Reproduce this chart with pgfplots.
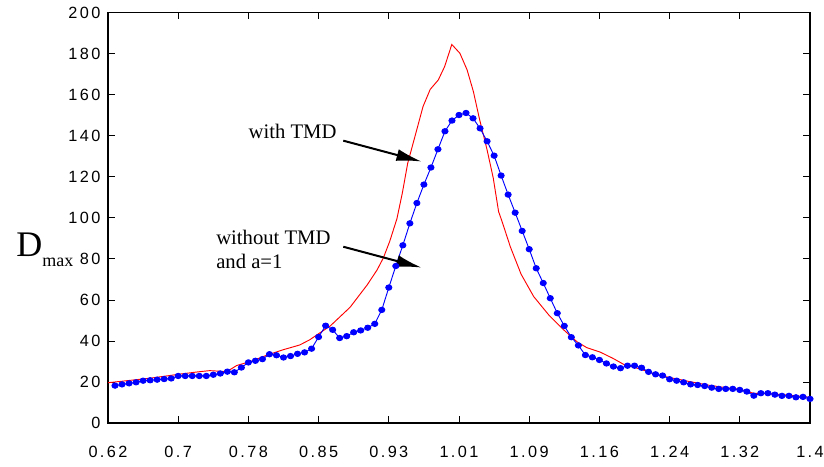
\documentclass[border=0pt]{standalone}
\usepackage{fontspec}
\setmainfont{Liberation Serif}
\newfontfamily\tickfont[LetterSpace=15]{Liberation Sans}
\usepackage{pgfplots}
\pgfplotsset{compat=1.18}
\usetikzlibrary{arrows.meta}
\begin{document}
\begin{tikzpicture}
\begin{axis}[
  name=ax,
  scale only axis,
  width=526.5pt, height=307.7pt,
  xmin=0.62, xmax=1.4, ymin=0, ymax=200,
  axis line style={black, line width=0.9pt},
  xtick={0.62,0.698,0.776,0.854,0.932,1.01,1.088,1.166,1.244,1.322,1.4},
  xticklabels={0.62,0.7,0.78,0.85,0.93,1.01,1.09,1.16,1.24,1.32,1.4},
  ytick={0,20,...,200},
  tick align=inside,
  major tick length=5pt,
  tick style={black, line width=0.5pt},
  /pgf/number format/assume math mode=true,
  ticklabel style={font=\tickfont\fontsize{12.2}{12.2}\selectfont},
  xticklabel style={anchor=north, inner sep=0pt, yshift=-17.5pt},
  yticklabel style={anchor=east, inner sep=0pt, xshift=-5.5pt},
  clip=false,
]
\addplot[red, line width=0.7pt] coordinates {
(0.620,19.6) (0.6667,21.8) (0.7033,24.0) (0.722,25.0) (0.733,25.5) (0.752,25.0)
(0.763,28.0) (0.778,29.9) (0.797,33.1) (0.814,35.6) (0.833,38.0) (0.844,40.5)
(0.852,42.9) (0.867,47.3) (0.889,56.4) (0.908,67.3) (0.919,74.6) (0.926,80.5)
(0.933,88.5) (0.941,99.5) (0.947,112.0) (0.953,126.6) (0.963,142.8) (0.970,154.2) (0.978,162.6)
(0.987,167.2) (0.994,173.7) (1.002,184.5) (1.011,180.2) (1.019,172.1) (1.026,161.5)
(1.033,147.7) (1.041,133.5) (1.048,119.5) (1.054,103.0) (1.058,98.0) (1.067,85.9)
(1.079,72.5) (1.093,61.6) (1.110,52.5) (1.126,45.5) (1.141,39.6) (1.152,36.7)
(1.167,34.5) (1.181,31.5) (1.194,28.3) (1.208,26.7) (1.220,25.0) (1.230,23.4)
(1.248,21.8) (1.267,20.1) (1.286,18.5) (1.303,17.4) (1.322,16.4) (1.337,14.5)
(1.359,14.1) (1.378,13.5) (1.400,12.5)
};
\addplot[blue, line width=0.7pt, mark=*, mark size=2pt, mark options={fill=blue, draw=blue, xscale=1.15}] coordinates {
(0.6278,18.2) (0.6356,18.8) (0.6434,19.3) (0.6512,19.8) (0.659,20.6) (0.6668,20.8)
(0.6746,21.1) (0.6824,21.4) (0.6902,21.7) (0.698,22.9) (0.7058,22.9) (0.7136,22.9)
(0.7214,22.9) (0.7292,22.9) (0.737,23.5) (0.7448,24.1) (0.7526,25.0) (0.7604,24.7)
(0.7682,27.0) (0.776,29.5) (0.7838,30.3) (0.7916,31.1) (0.7994,33.5) (0.8072,33.0)
(0.815,31.9) (0.8228,32.6) (0.8306,33.7) (0.8384,34.4) (0.8462,36.2) (0.854,41.9)
(0.8618,47.4) (0.8696,45.4) (0.8774,41.4) (0.8852,42.3) (0.893,44.2) (0.9008,45.1)
(0.9086,46.4) (0.9164,48.3) (0.9242,55.1) (0.932,66.0) (0.9398,76.5) (0.9476,86.6)
(0.9554,97.3) (0.9632,107.2) (0.971,116.2) (0.9788,124.5) (0.9866,133.4) (0.9944,142.2)
(1.0022,147.4) (1.01,150.1) (1.0178,151.1) (1.0256,148.5) (1.0334,143.6) (1.0412,137.3)
(1.049,130.3) (1.0568,120.6) (1.0646,111.3) (1.0724,102.5) (1.0802,93.6) (1.088,84.7)
(1.0958,75.4) (1.1036,68.2) (1.1114,60.8) (1.1192,53.5) (1.127,47.3) (1.1348,41.8)
(1.1426,37.8) (1.1504,33.1) (1.1582,32.0) (1.166,30.7) (1.1738,29.0) (1.1816,27.5)
(1.1894,26.7) (1.1972,27.9) (1.205,27.9) (1.2128,26.9) (1.2206,24.9) (1.2284,23.7)
(1.2362,23.1) (1.244,21.3) (1.2518,20.6) (1.2596,19.8) (1.2674,18.8) (1.2752,18.5)
(1.283,18.0) (1.2908,17.2) (1.2986,16.6) (1.3064,16.6) (1.3142,16.6) (1.322,16.1)
(1.3298,15.3) (1.3376,13.3) (1.3454,14.5) (1.3532,14.5) (1.361,13.8) (1.3688,13.2)
(1.3766,13.2) (1.3844,12.5) (1.3922,12.7) (1.4,11.7)
};
\draw[black, line width=1.5pt, -{Latex[length=19pt,width=9pt]}] (axis cs:0.8814,137.6) -- (axis cs:0.9686,127.4);
\draw[black, line width=1.5pt, -{Latex[length=19pt,width=9pt]}] (axis cs:0.8814,85.9) -- (axis cs:0.9686,75.7);
\node[anchor=base east, inner sep=0pt, font=\fontsize{15.5}{15.5}\selectfont] at (axis cs:0.8741,138.8) {with TMD};
\node[anchor=base west, inner sep=0pt, font=\fontsize{15.5}{15.5}\selectfont] at (axis cs:0.74,86.8) {without TMD};
\node[anchor=base west, inner sep=0pt, font=\fontsize{15.5}{15.5}\selectfont] at (axis cs:0.74,75.4) {and a=1};
\end{axis}
\node[anchor=base west, inner sep=0pt] at ([xshift=-69pt, yshift=-29pt]ax.west) {\fontsize{27}{27}\selectfont D\raisebox{-0.28em}{\fontsize{13.5}{13.5}\selectfont max}};
\pgfresetboundingbox
\path[use as bounding box] ([xshift=-81pt,yshift=-33pt]ax.south west) rectangle ([xshift=10.5pt,yshift=9.5pt]ax.north east);
\end{tikzpicture}
\end{document}
